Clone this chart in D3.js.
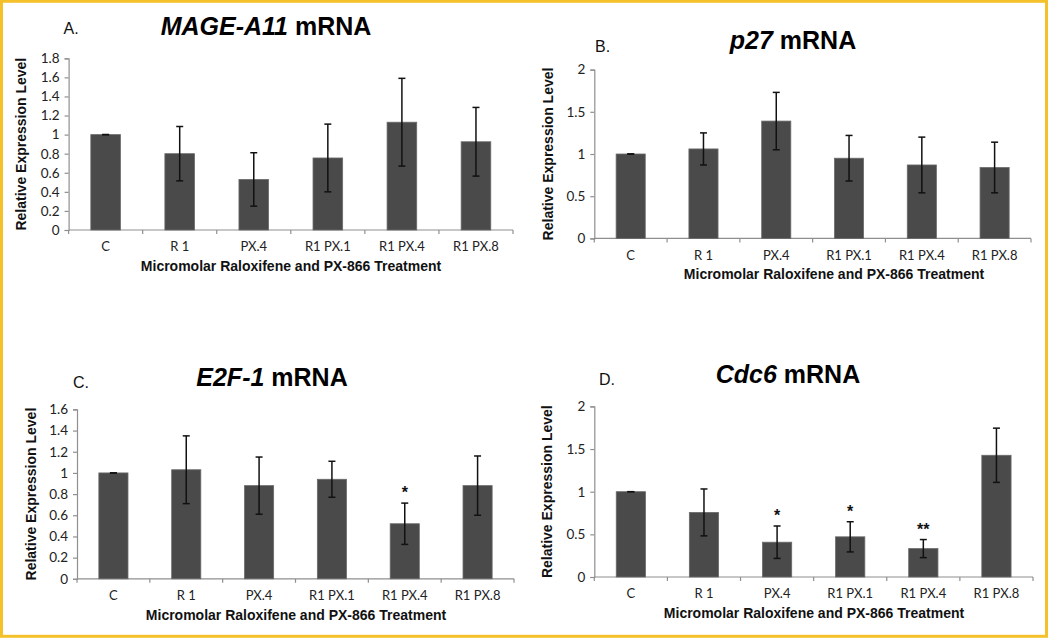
<!DOCTYPE html>
<html><head><meta charset="utf-8">
<script src="https://cdn.jsdelivr.net/npm/d3@7"></script>
<style>body{margin:0;background:#fff}svg{display:block}</style>
</head><body>
<svg id="chart" width="1050" height="638"></svg>
<script>
// ---- data ----
const categories = ["C", "R 1", "PX.4", "R1 PX.1", "R1 PX.4", "R1 PX.8"];

const mageValues = [1.0, 0.80, 0.53, 0.755, 1.13, 0.925];
const mageErrors = [0, 0.285, 0.28, 0.355, 0.46, 0.36];
const mageTicks  = [0, 0.2, 0.4, 0.6, 0.8, 1, 1.2, 1.4, 1.6, 1.8];
const mageSig    = ["", "", "", "", "", ""];

const p27Values = [1.0, 1.06, 1.39, 0.95, 0.87, 0.84];
const p27Errors = [0, 0.19, 0.34, 0.27, 0.33, 0.30];
const p27Ticks  = [0, 0.5, 1, 1.5, 2];
const p27Sig    = ["", "", "", "", "", ""];

const e2fValues = [1.0, 1.03, 0.88, 0.94, 0.52, 0.88];
const e2fErrors = [0, 0.32, 0.27, 0.17, 0.195, 0.28];
const e2fTicks  = [0, 0.2, 0.4, 0.6, 0.8, 1, 1.2, 1.4, 1.6];
const e2fSig    = ["", "", "", "", "*", ""];

const cdcValues = [1.0, 0.757, 0.408, 0.471, 0.333, 1.427];
const cdcErrors = [0, 0.275, 0.19, 0.177, 0.106, 0.318];
const cdcTicks  = [0, 0.5, 1, 1.5, 2];
const cdcSig    = ["", "", "*", "*", "**", ""];

const panelLetters = ["A.", "B.", "C.", "D."];
const geneNames = ["MAGE-A11", "p27", "E2F-1", "Cdc6"];
const yAxisTitle = "Relative Expression Level";
const xAxisTitle = "Micromolar Raloxifene and PX-866 Treatment";

// ---- layout ----
const panels = [
  {values: mageValues, errors: mageErrors, ticks: mageTicks, sig: mageSig,
   left: 68.6, right: 513, top: 58.3, bottom: 230,
   title: [266, 35, 25], letter: [63.6, 33.5], ylab: 22.7, xlabX: 291},
  {values: p27Values, errors: p27Errors, ticks: p27Ticks, sig: p27Sig,
   left: 594.3, right: 1031, top: 69.6, bottom: 238.4,
   title: [793, 48.5, 25], letter: [595, 52], ylab: 549, xlabX: 834},
  {values: e2fValues, errors: e2fErrors, ticks: e2fTicks, sig: e2fSig,
   left: 77, right: 514, top: 409.4, bottom: 578.8,
   title: [272, 386, 25], letter: [73, 388], ylab: 32, xlabX: 296},
  {values: cdcValues, errors: cdcErrors, ticks: cdcTicks, sig: cdcSig,
   left: 594.3, right: 1033, top: 406.4, bottom: 577,
   title: [788, 383, 25], letter: [599, 385], ylab: 548, xlabX: 814}
];

const svg = d3.select("#chart");
const AX = "#8f8f8f";
const BAR = "#4a4a4a";
const TICKFONT = "Lato, 'Open Sans', sans-serif";
const BOLDFONT = "'Liberation Sans', Arial, sans-serif";

panels.forEach((p, i) => {
  const g = svg.append("g");
  const yMax = p.ticks[p.ticks.length - 1];
  const x = d3.scaleBand().domain(categories).range([p.left, p.right]).padding(0);
  const y = d3.scaleLinear().domain([0, yMax]).range([p.bottom, p.top]);

  // y axis
  const yAxis = d3.axisLeft(y).tickValues(p.ticks).tickSize(4).tickPadding(5)
    .tickFormat(v => String(+v.toFixed(1)));
  const ya = g.append("g").attr("transform", `translate(${p.left},0)`).call(yAxis);
  ya.select(".domain").attr("stroke", AX).attr("stroke-width", 1.2);
  ya.selectAll(".tick line").attr("stroke", AX).attr("stroke-width", 1.2);
  ya.selectAll(".tick text").attr("font-family", TICKFONT).attr("font-size", 13.5).attr("fill", "#222");

  // x axis with ticks at band boundaries
  const xa = g.append("g").attr("transform", `translate(0,${p.bottom})`);
  const edges = categories.map(c => x(c)).concat([p.right]);
  xa.append("line").attr("x1", p.left).attr("x2", p.right).attr("y1", 0).attr("y2", 0)
    .attr("stroke", AX).attr("stroke-width", 1.2);
  xa.selectAll("line.tk").data(edges).join("line").attr("class", "tk")
    .attr("x1", d => d).attr("x2", d => d).attr("y1", 0).attr("y2", 4)
    .attr("stroke", AX).attr("stroke-width", 1.2);
  xa.selectAll("text").data(categories).join("text")
    .attr("x", d => x(d) + x.bandwidth() / 2).attr("y", 18)
    .attr("dominant-baseline", "middle").attr("text-anchor", "middle")
    .attr("font-family", TICKFONT).attr("font-size", 13).attr("fill", "#222")
    .text(d => d);

  // bars
  const bw = x.bandwidth() * 0.4;
  g.selectAll("rect.bar").data(p.values).join("rect").attr("class", "bar")
    .attr("x", (d, j) => x(categories[j]) + (x.bandwidth() - bw) / 2)
    .attr("width", bw)
    .attr("y", d => y(d))
    .attr("height", d => y(0) - y(d))
    .attr("fill", BAR).attr("stroke", "#6a6a6a").attr("stroke-width", 0.8);

  // error bars
  const cx = j => x(categories[j]) + x.bandwidth() / 2;
  const eg = g.append("g").attr("stroke", "#111").attr("stroke-width", 1.5);
  p.values.forEach((v, j) => {
    const e = p.errors[j];
    eg.append("line").attr("x1", cx(j)).attr("x2", cx(j)).attr("y1", y(v + e)).attr("y2", y(v - e));
    [v + e, v - e].forEach(t => {
      eg.append("line").attr("x1", cx(j) - 3.5).attr("x2", cx(j) + 3.5).attr("y1", y(t)).attr("y2", y(t));
    });
  });

  // significance markers
  g.selectAll("text.sig").data(p.sig).join("text").attr("class", "sig")
    .attr("x", (d, j) => cx(j)).attr("y", (d, j) => y(p.values[j] + p.errors[j]) - 5)
    .attr("text-anchor", "middle").attr("font-family", BOLDFONT).attr("font-weight", "bold")
    .attr("font-size", 16).attr("fill", "#111").text(d => d);

  // y axis title
  g.append("text").attr("transform", `translate(${p.ylab},${(p.top + p.bottom) / 2}) rotate(-90)`)
    .attr("text-anchor", "middle").attr("dominant-baseline", "middle")
    .attr("font-family", BOLDFONT).attr("font-weight", "bold").attr("font-size", 14)
    .attr("fill", "#111").text(yAxisTitle);

  // x axis title
  g.append("text").attr("x", p.xlabX).attr("y", p.bottom + 37)
    .attr("text-anchor", "middle").attr("dominant-baseline", "middle")
    .attr("font-family", BOLDFONT).attr("font-weight", "bold").attr("font-size", 14)
    .attr("fill", "#111").text(xAxisTitle);

  // panel title
  const t = g.append("text").attr("x", p.title[0]).attr("y", p.title[1])
    .attr("text-anchor", "middle").attr("font-family", BOLDFONT).attr("font-weight", "bold")
    .attr("font-size", p.title[2]).attr("fill", "#000");
  t.append("tspan").attr("font-style", "italic").text(geneNames[i]);
  t.append("tspan").text(" mRNA");

  // panel letter
  g.append("text").attr("x", p.letter[0]).attr("y", p.letter[1])
    .attr("font-family", BOLDFONT).attr("font-size", 16).attr("fill", "#111").text(panelLetters[i]);
});

// outer border
svg.append("rect").attr("x", 1.5).attr("y", 1.3).attr("width", 1045).attr("height", 635)
  .attr("fill", "none").attr("stroke", "#F4C12B").attr("stroke-width", 3);
</script>
</body></html>
